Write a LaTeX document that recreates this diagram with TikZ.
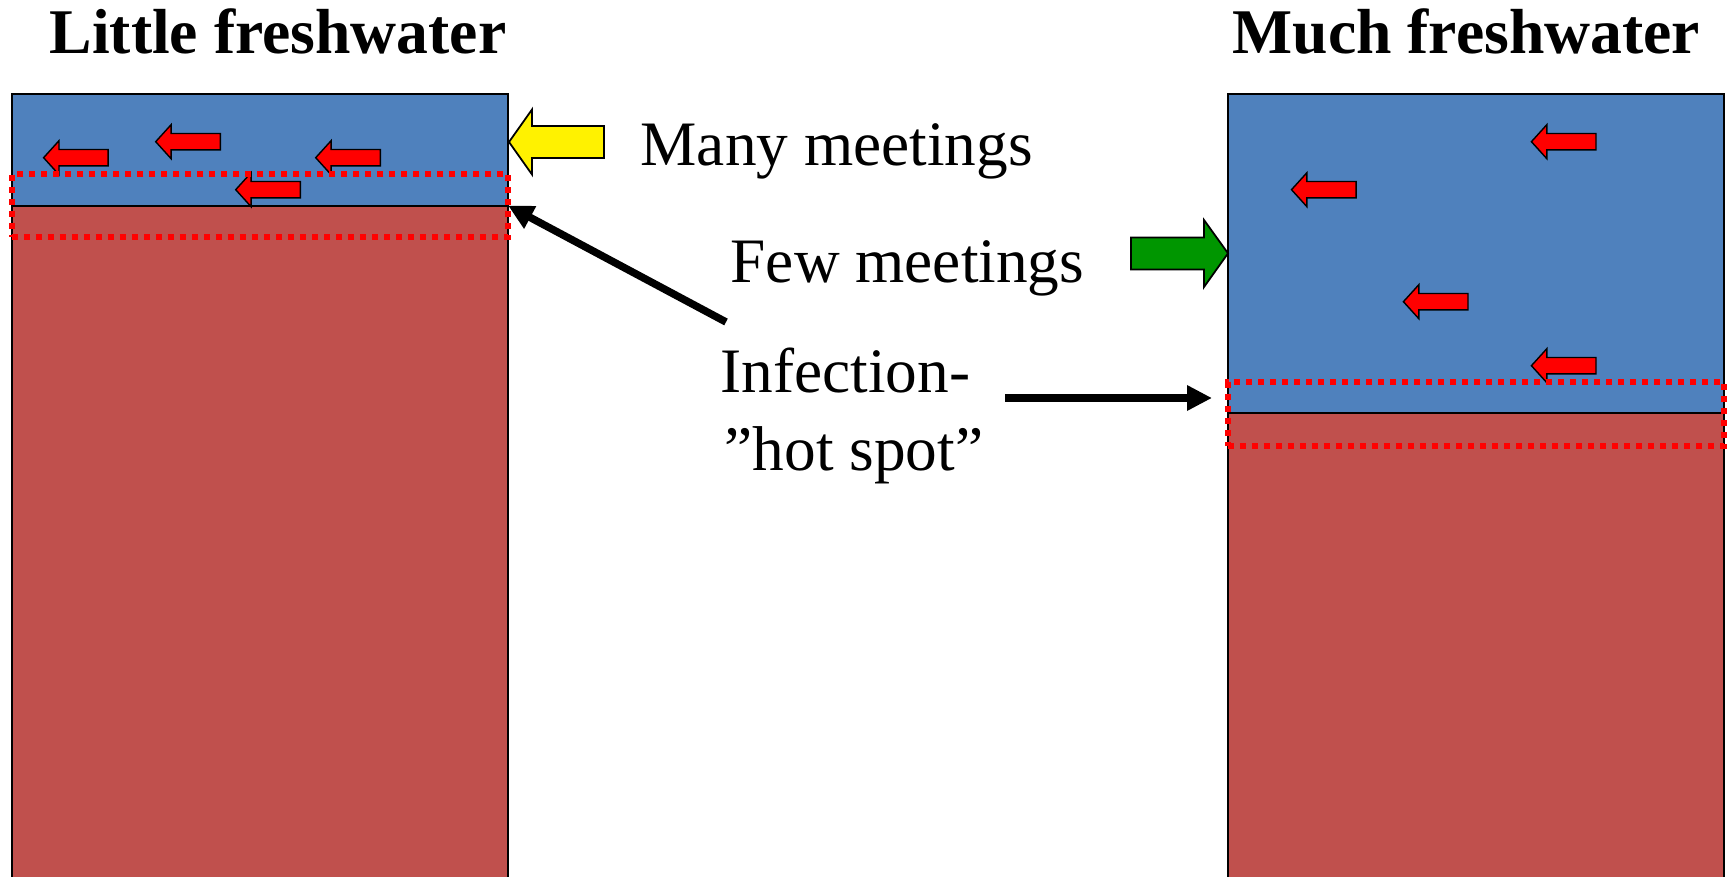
\documentclass[tikz,border=0pt]{standalone}
\usepackage{fontspec}
\setmainfont{Liberation Serif}
\usetikzlibrary{arrows.meta}
\definecolor{waterblue}{HTML}{4F81BD}
\definecolor{saltred}{HTML}{C0504D}
\definecolor{arrowgreen}{HTML}{009600}
\tikzset{
  box/.style={draw=black, line width=0.5pt},
  hotspot/.style={draw=red, line width=0.06cm, dash pattern=on 0.06cm off 0.06cm, inner sep=0pt, outer sep=0pt},
  lbl/.style={font=\fontsize{18}{21.9}\selectfont, inner sep=0pt},
  ttl/.style={font=\bfseries\fontsize{18.1}{21.5}\selectfont, inner sep=0pt},
  conn/.style={line width=0.075cm, -{Triangle[length=0.25cm,width=0.24cm]}},
  blockarrow/.style={draw=black, line width=0.5pt, line join=miter},
  redarrow/.pic={\draw[fill=red, line width=0.4pt, line join=miter]
    (0,0) -- (15.4,-17) -- (15.4,-8.2) -- (64.6,-8.2) -- (64.6,8.2) -- (15.4,8.2) -- (15.4,17) -- cycle;}
}
\begin{document}
\begin{tikzpicture}[x=0.01cm, y=-0.01cm]
\useasboundingbox (0,0) rectangle (1731,876);
\clip (0,0) rectangle (1731,876);
\fill[white] (0,0) rectangle (1731,876);

% left column
\path[box, fill=waterblue] (12,94) rectangle (508,206);
\path[box, fill=saltred] (12,206) rectangle (508,890);
% right column
\path[box, fill=waterblue] (1228,94) rectangle (1724,413);
\path[box, fill=saltred] (1228,413) rectangle (1724,890);

% small red arrows (left)
\pic at (43.6,157.7) {redarrow};
\pic at (155.7,141.7) {redarrow};
\pic at (315.7,157.7) {redarrow};
\pic at (235.7,189.7) {redarrow};
% small red arrows (right)
\pic at (1531.4,141.7) {redarrow};
\pic at (1291.5,189.7) {redarrow};
\pic at (1403.4,301.7) {redarrow};
\pic at (1531.4,365.7) {redarrow};

% hot spots
\node[hotspot, minimum width=4.96cm, minimum height=0.633cm] (hot1) at (260,205.7) {};
\node[hotspot, minimum width=4.96cm, minimum height=0.64cm] (hot2) at (1476,414) {};

% yellow and green block arrows
\draw[blockarrow, fill=yellow] (509,142) -- (532,109.5) -- (532,126) -- (604,126) -- (604,158) -- (532,158) -- (532,174.5) -- cycle;
\draw[blockarrow, fill=arrowgreen] (1228,253.3) -- (1204,220) -- (1204,237.5) -- (1131,237.5) -- (1131,269.5) -- (1204,269.5) -- (1204,287) -- cycle;

% titles
\node[ttl, anchor=base west] (t1) at (49,53.3) {Little freshwater};
\node[ttl, anchor=base west] (t2) at (1232,53.3) {Much freshwater};

% labels
\node[lbl, anchor=base west] (many) at (640,166) {Many meetings};
\node[lbl, anchor=base west] (few) at (730,282.7) {Few meetings};
\node[lbl, anchor=base west] (inf1) at (720,392.7) {Infection-};
\node[lbl, anchor=base west] (inf2) at (724,470) {”hot spot”};

% connectors
\coordinate (c1) at (726,322);
\coordinate (c2) at (1005,398);
\coordinate (c2tip) at (1212,398);
\draw[conn] (c1) -- (hot1.east);
\draw[conn] (c2) -- (c2tip);
\end{tikzpicture}
\end{document}
